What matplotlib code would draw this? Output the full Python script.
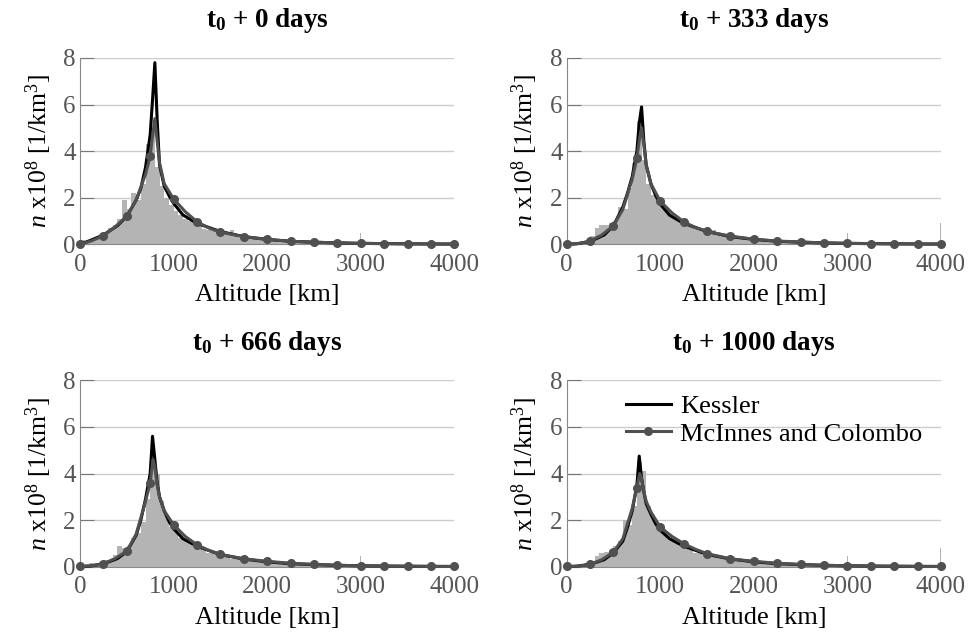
import numpy as np
import matplotlib
matplotlib.use("Agg")
import matplotlib.pyplot as plt

plt.rcParams["font.family"] = ["Liberation Serif", "DejaVu Serif"]
plt.rcParams["mathtext.fontset"] = "custom"
plt.rcParams["mathtext.rm"] = "Liberation Serif"
plt.rcParams["mathtext.it"] = "Liberation Serif:italic"
plt.rcParams["mathtext.bf"] = "Liberation Serif:bold"

# ---- data ----
titles = ["0", "333", "666", "1000"]

# histogram, 50 km bins from 0 to 2000 km
hist_edges = list(range(0, 4000, 50))
hist_0 = [0.2, 0.1, 0.15, 0.25, 0.35, 0.5, 0.7, 0.85, 1.1, 1.9,
          1.5, 2.2, 1.9, 2.6, 4.3, 4.8, 3.3, 2.5, 2.0, 1.7,
          1.45, 1.25, 1.1, 1.0, 0.95, 0.8, 0.65, 0.6, 0.55, 0.5,
          0.4, 0.45, 0.6, 0.4, 0.25, 0.3, 0.3, 0.25, 0.25, 0.3]
hist_333 = [0.03, 0.05, 0.05, 0.1, 0.15, 0.35, 0.7, 0.85, 0.85, 0.9,
            1.0, 1.6, 1.5, 2.4, 3.5, 5.3, 3.6, 2.6, 2.1, 1.8,
            1.8, 1.5, 1.2, 1.1, 1.0, 0.9, 0.75, 0.7, 0.6, 0.55,
            0.5, 0.6, 0.45, 0.4, 0.4, 0.45, 0.3, 0.25, 0.22, 0.22]
hist_666 = [0.05, 0.1, 0.15, 0.15, 0.2, 0.3, 0.3, 0.5, 0.9, 0.8,
            0.9, 1.25, 1.45, 1.9, 2.9, 5.0, 4.0, 2.8, 2.2, 1.7,
            1.5, 1.25, 1.1, 1.0, 0.9, 0.85, 0.7, 0.6, 0.6, 0.5,
            0.4, 0.4, 0.35, 0.35, 0.3, 0.3, 0.28, 0.25, 0.2, 0.2]
hist_1000 = [0.03, 0.03, 0.05, 0.1, 0.15, 0.25, 0.45, 0.6, 0.65, 0.7,
             0.9, 1.1, 2.0, 1.8, 2.6, 4.5, 4.1, 2.6, 2.1, 1.8,
             1.5, 1.3, 1.1, 1.0, 0.9, 0.8, 0.7, 0.6, 0.65, 0.5,
             0.6, 0.5, 0.4, 0.35, 0.3, 0.3, 0.25, 0.22, 0.2, 0.2]
# 2000 - 4000 km, nearly the same in every panel
hist_tail = [0.2, 0.18, 0.15, 0.15, 0.12, 0.12, 0.1, 0.1, 0.08, 0.09,
             0.07, 0.06, 0.06, 0.05, 0.05, 0.04, 0.04, 0.03, 0.04, 0.03,
             0.03, 0.03, 0.02, 0.02, 0.02, 0.02, 0.02, 0.02, 0.01, 0.01,
             0.01, 0.01, 0.01, 0.01, 0.01, 0.01, 0.01, 0.01, 0.01, 0.01]
# single narrow spikes
spike_x = [2000, 3000, 4000]
spike_0 = [0.4, 0.48, 0.95]
spike_333 = [0.3, 0.47, 0.93]
spike_666 = [0.43, 0.46, 0.89]
spike_1000 = [0.3, 0.46, 0.79]

kes_x = [0, 100, 250, 400, 500, 600, 650, 700, 750, 775, 800, 825, 850, 900,
         950, 1000, 1100, 1250, 1500, 1750, 2000, 2250, 2500, 2750, 3000, 3500, 4000]
kes_0 = [0, 0.15, 0.4, 0.8, 1.2, 1.9, 2.4, 3.3, 4.7, 6.2, 7.8, 5.3, 3.4, 2.5,
         2.1, 1.76, 1.26, 0.9, 0.55, 0.33, 0.21, 0.13, 0.09, 0.06, 0.04, 0.02, 0.01]
kes_333 = [0, 0.02, 0.12, 0.4, 0.8, 1.6, 2.2, 2.9, 4.0, 5.2, 5.9, 4.4, 3.4, 2.6,
           2.1, 1.72, 1.25, 0.9, 0.55, 0.33, 0.21, 0.13, 0.09, 0.06, 0.04, 0.02, 0.01]
kes_666 = [0, 0.02, 0.12, 0.35, 0.65, 1.35, 2.0, 2.9, 4.0, 5.6, 4.6, 3.6, 3.0, 2.4,
           1.95, 1.63, 1.2, 0.88, 0.52, 0.33, 0.21, 0.13, 0.09, 0.06, 0.04, 0.02, 0.01]
kes_1000 = [0, 0.02, 0.1, 0.3, 0.6, 1.1, 1.7, 2.4, 3.5, 4.75, 3.8, 3.2, 2.7, 2.25,
            1.85, 1.56, 1.2, 0.88, 0.53, 0.33, 0.21, 0.13, 0.09, 0.06, 0.04, 0.02, 0.01]

mc_x = [0, 125, 250, 375, 500, 600, 700, 750, 780, 800, 820, 850, 900, 1000,
        1125, 1250, 1375, 1500, 1750, 2000, 2250, 2500, 2750, 3000, 3250, 3500, 3750, 4000]
mc_0 = [0, 0.15, 0.37, 0.75, 1.2, 1.9, 3.0, 3.8, 4.8, 5.4, 4.6, 3.5, 2.6, 1.95,
        1.4, 0.97, 0.7, 0.52, 0.33, 0.21, 0.13, 0.09, 0.06, 0.04, 0.03, 0.02, 0.01, 0.01]
mc_333 = [0.01, 0.03, 0.14, 0.4, 0.8, 1.5, 2.8, 3.7, 4.6, 5.0, 4.4, 3.4, 2.6, 1.85,
          1.35, 0.97, 0.72, 0.55, 0.35, 0.22, 0.14, 0.1, 0.06, 0.04, 0.03, 0.02, 0.01, 0.01]
mc_666 = [0.01, 0.03, 0.13, 0.35, 0.67, 1.4, 2.8, 3.6, 4.6, 4.3, 3.6, 3.0, 2.4, 1.8,
          1.3, 0.94, 0.7, 0.53, 0.34, 0.23, 0.15, 0.1, 0.06, 0.04, 0.02, 0.02, 0.01, 0.01]
mc_1000 = [0.01, 0.02, 0.1, 0.3, 0.63, 1.2, 2.5, 3.4, 4.0, 3.8, 3.3, 2.8, 2.35, 1.7,
           1.3, 0.99, 0.75, 0.56, 0.34, 0.23, 0.15, 0.1, 0.06, 0.04, 0.02, 0.02, 0.01, 0.01]

hists = [hist_0, hist_333, hist_666, hist_1000]
spikes = [spike_0, spike_333, spike_666, spike_1000]
kess = [kes_0, kes_333, kes_666, kes_1000]
mcs = [mc_0, mc_333, mc_666, mc_1000]

# ---- plotting ----
fig = plt.figure(figsize=(9.69, 6.39), dpi=100)

W, H = 969.0, 639.0
boxes = [(80, 244.3), (566.7, 244.3), (80, 566.7), (566.7, 566.7)]  # left, bottom in px
aw, ah = 374.3, 186.3

mark = [x % 250 == 0 for x in mc_x]

for i in range(4):
    l, b = boxes[i]
    ax = fig.add_axes([l / W, 1 - b / H, aw / W, ah / H])

    heights = hists[i] + hist_tail
    ax.bar(hist_edges, heights, width=50, align="edge", color="#b4b4b4",
           edgecolor="none", zorder=2)
    ax.bar(spike_x, spikes[i], width=12, color="#b4b4b4", edgecolor="none", zorder=2)

    ax.plot(kes_x, kess[i], color="black", lw=2.2, zorder=4, label="Kessler",
            clip_on=False)
    ax.plot(mc_x, mcs[i], color="#505050", lw=2.2, marker="o", markersize=5.5,
            markevery=mark, zorder=5, label="McInnes and Colombo", clip_on=False)

    ax.set_xlim(0, 4000)
    ax.set_ylim(0, 8)
    ax.set_xticks([0, 1000, 2000, 3000, 4000])
    ax.set_yticks([0, 2, 4, 6, 8])
    ax.grid(axis="y", color="#cccccc", lw=1, zorder=0)
    ax.set_axisbelow(True)
    for s in ["top", "right"]:
        ax.spines[s].set_visible(False)
    ax.spines["left"].set_color("#888888")
    ax.spines["bottom"].set_color("#888888")
    ax.tick_params(axis="y", direction="in", length=10, color="#777777",
                   labelsize=18, labelcolor="#555555", pad=3)
    ax.tick_params(axis="x", length=0, labelsize=18, labelcolor="#555555", pad=7)

    ax.set_title(r"t$_\mathbf{0}$ + " + titles[i] + " days", fontsize=19.5,
                 fontweight="bold", pad=22)
    ax.set_xlabel("Altitude [km]", fontsize=19, labelpad=6)
    ax.set_ylabel(r"$n$ x10$^8$ [1/km$^3$]", fontsize=18.5, labelpad=7)

    if i == 3:
        ax.legend(loc="upper left", bbox_to_anchor=(0.13, 0.98), frameon=False,
                  fontsize=19, handlelength=1.7, handletextpad=0.35,
                  borderaxespad=0, labelspacing=0.15)

fig.savefig("out.png", dpi=100)
